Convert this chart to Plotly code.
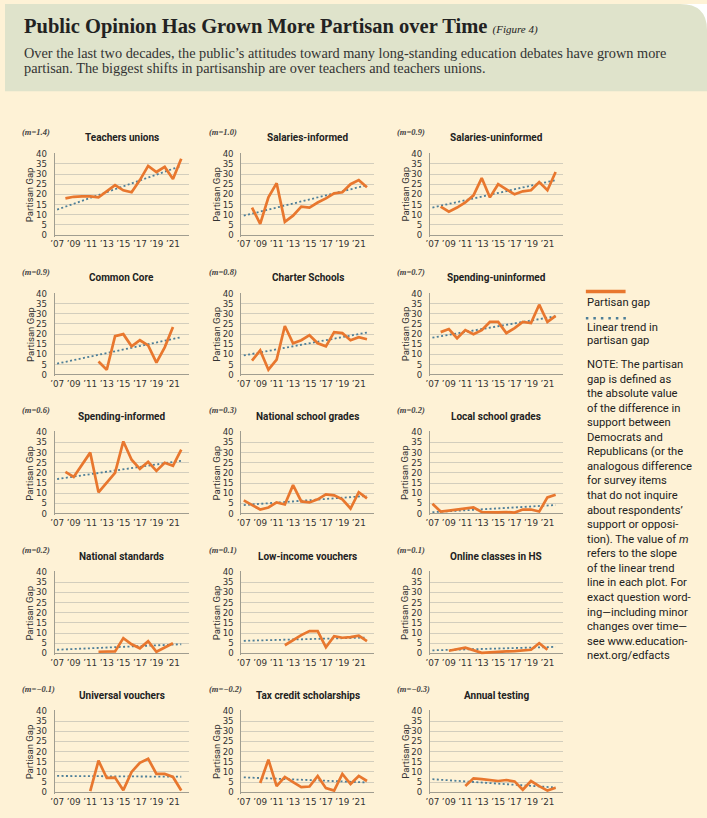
import plotly.graph_objects as go

W, H = 707, 818

# ---------------- data ----------------
panel_titles = ["Teachers unions", "Salaries-informed", "Salaries-uninformed",
                "Common Core", "Charter Schools", "Spending-uninformed",
                "Spending-informed", "National school grades", "Local school grades",
                "National standards", "Low-income vouchers", "Online classes in HS",
                "Universal vouchers", "Tax credit scholarships", "Annual testing"]
slope_labels = ["1.4", "1.0", "0.9", "0.9", "0.8", "0.7", "0.6", "0.3", "0.2",
                "0.2", "0.1", "0.1", "\u22120.1", "\u22120.2", "\u22120.3"]

teachers_unions_years = list(range(2008, 2023))
teachers_unions_gap = [18, 18.8, 19, 19, 18.5, 21.5, 24.5, 22, 21, 27, 34, 31, 33.5, 27.5, 37.5]

salaries_informed_years = list(range(2008, 2023))
salaries_informed_gap = [13.5, 5.5, 18.5, 25.5, 6.5, 9.5, 14, 13.5, 16, 18, 20.5, 21, 25, 27, 23.5]

salaries_uninformed_years = list(range(2008, 2023))
salaries_uninformed_gap = [14, 11.5, 13.5, 16, 19.5, 28, 18.5, 25, 22.5, 20, 21.5, 22, 26, 22, 31]

common_core_years = list(range(2012, 2022))
common_core_gap = [6.5, 2.5, 19, 20, 14, 17, 14.5, 6, 13.5, 23.5]

charter_years = list(range(2008, 2023))
charter_gap = [7, 12, 2.5, 7.5, 24, 15.5, 17, 19.5, 15.5, 14, 21, 20.5, 17, 18.5, 17.5]

spending_uninformed_years = list(range(2008, 2023))
spending_uninformed_gap = [21, 22.5, 18, 22, 20, 22, 26, 26, 20.5, 23, 26, 25.5, 34.5, 26, 29]

spending_informed_years = [2008, 2009, 2011, 2012, 2014, 2015, 2016, 2017, 2018, 2019, 2020, 2021, 2022]
spending_informed_gap = [20.5, 18, 30, 10.5, 20, 35.5, 26.5, 22, 25.5, 21, 25, 23.5, 31.5]

national_grades_years = [2007] + list(range(2009, 2023))
national_grades_gap = [6.5, 2, 3, 5.5, 4.5, 14, 6, 5.5, 7, 9.5, 9, 7, 2.5, 10.5, 7.5]

local_grades_years = list(range(2007, 2023))
local_grades_gap = [4.8, 1, 1.5, 2, 2.2, 3, 0.8, 0.6, 0.6, 0.8, 0.5, 2, 2, 1, 8, 9.3]

national_standards_years = [2012, 2014, 2015, 2016, 2017, 2018, 2019, 2021]
national_standards_gap = [0.8, 1, 7.5, 4.5, 2.5, 6, 0.8, 5]

low_income_years = list(range(2012, 2023))
low_income_gap = [4, 6.5, 9, 11, 11, 3, 8.5, 7.7, 8, 8.7, 6]

online_years = [2009, 2010, 2011, 2013, 2014, 2015, 2016, 2017, 2018, 2019, 2020, 2021]
online_gap = [1.3, 2, 2.8, 0.3, 0.6, 0.8, 1, 1.1, 1.3, 1.8, 5, 1.8]

universal_years = list(range(2011, 2023))
universal_gap = [0.5, 15.5, 7, 7.2, 1, 10, 14.5, 16.5, 9, 9, 7.5, 0.8]

tax_credit_years = list(range(2009, 2023))
tax_credit_gap = [4.5, 16, 3, 7.5, 5, 2.5, 2.8, 8, 2, 0.8, 9, 4, 8, 5.5]

annual_testing_years = list(range(2011, 2023))
annual_testing_gap = [3, 6.8, 6.4, 6, 5.5, 6, 5.3, 1.2, 5.5, 3, 0.8, 2.2]

trend_years = [2007, 2022]
trend_start = [12.5, 9.5, 13.5, 5.5, 9.5, 18.3, 17, 4.2, 0.7, 1.8, 6.2, 1.5, 8, 7.3, 6.4]
trend_end = [34, 24.5, 27, 18.5, 20.8, 28.8, 26, 8.7, 4.2, 4.5, 7.8, 3.2, 7.6, 4.8, 2.3]

series_years = [teachers_unions_years, salaries_informed_years, salaries_uninformed_years,
                common_core_years, charter_years, spending_uninformed_years,
                spending_informed_years, national_grades_years, local_grades_years,
                national_standards_years, low_income_years, online_years,
                universal_years, tax_credit_years, annual_testing_years]
series_gap = [teachers_unions_gap, salaries_informed_gap, salaries_uninformed_gap,
              common_core_gap, charter_gap, spending_uninformed_gap,
              spending_informed_gap, national_grades_gap, local_grades_gap,
              national_standards_gap, low_income_gap, online_gap,
              universal_gap, tax_credit_gap, annual_testing_gap]

x_tick_years = [2007, 2009, 2011, 2013, 2015, 2017, 2019, 2021]
x_tick_text = ["\u201907", "\u201909", "\u201911", "\u201913", "\u201915", "\u201917", "\u201919", "\u201921"]
y_ticks = [0, 5, 10, 15, 20, 25, 30, 35, 40]

note_lines = ["NOTE: The partisan", "gap is defined as", "the absolute value",
              "of the difference in", "support between", "Democrats and",
              "Republicans (or the", "analogous difference", "for survey items",
              "that do not inquire", "about respondents\u2019", "support or opposi-",
              "tion). The value of <i>m</i>", "refers to the slope", "of the linear trend",
              "line in each plot. For", "exact question word-", "ing\u2014including minor",
              "changes over time\u2014", "see www.education-", "next.org/edfacts"]

# ---------------- style ----------------
ORANGE = "#e8772e"
TREND = "#4d7e98"
CREAM = "#fef2d6"
HEADER = "#dfe3cb"
GRID = "#d3cebd"
AXIS = "#a09d90"
SANS = "Roboto, Open Sans, sans-serif"
TICKF = "DejaVu Sans, Roboto, sans-serif"
SERIF = "Liberation Serif, DejaVu Serif, serif"

col_px = [(50, 185), (238, 372), (428, 562)]
row_px = [(233, 151), (374, 292), (514, 432), (655, 573), (795, 713)]  # (y of 0, y of 40)
YR = [-0.8, 40.4]
XR = [2006.7, 2022.9]


def fx(px):
    return px / W


def fy(py):
    return 1 - py / H


fig = go.Figure()
layout = dict(
    width=W, height=H, autosize=False,
    margin=dict(l=0, r=0, t=0, b=0),
    paper_bgcolor=CREAM, plot_bgcolor="rgba(0,0,0,0)",
    showlegend=False,
)
annotations = []
shapes = []

for i in range(15):
    r, c = divmod(i, 3)
    x0, x1 = col_px[c]
    y0, y40 = row_px[r]
    s = (y0 - y40) / 40.0
    bottom = y0 - YR[0] * s
    top = y40 - (YR[1] - 40) * s
    n = "" if i == 0 else str(i + 1)
    layout["xaxis" + n] = dict(
        domain=[fx(x0), fx(x1)], range=XR, anchor="y" + n,
        tickmode="array", tickvals=x_tick_years, ticktext=x_tick_text,
        showgrid=False, zeroline=False, showline=False, ticks="",
        tickfont=dict(family=TICKF, size=8.8, color="#333333"),
        ticklabelstandoff=1,
        fixedrange=True,
    )
    layout["yaxis" + n] = dict(
        domain=[fy(bottom), fy(top)], range=YR, anchor="x" + n,
        tickmode="array", tickvals=y_ticks,
        showgrid=True, gridcolor=GRID, gridwidth=1,
        zeroline=True, zerolinecolor=AXIS, zerolinewidth=1,
        showline=True, linecolor=AXIS, linewidth=1, ticks="",
        tickfont=dict(family=TICKF, size=8.6, color="#333333"),
        ticklabelstandoff=5,
        fixedrange=True,
    )
    fig.add_trace(go.Scatter(
        x=trend_years, y=[trend_start[i], trend_end[i]], mode="lines",
        line=dict(color=TREND, width=1.8, dash="2px,2.4px"),
        xaxis="x" + n, yaxis="y" + n, hoverinfo="skip"))
    fig.add_trace(go.Scatter(
        x=series_years[i], y=series_gap[i], mode="lines",
        line=dict(color=ORANGE, width=2.7),
        xaxis="x" + n, yaxis="y" + n))
    # panel title
    annotations.append(dict(
        text="<b>" + panel_titles[i] + "</b>", xref="paper", yref="paper",
        x=fx((x0 + x1) / 2), y=fy(y40 - 16), xanchor="center", yanchor="middle",
        showarrow=False, font=dict(family=SANS, size=10, color="#222222")))
    # slope label
    annotations.append(dict(
        text="<b><i>(m=" + slope_labels[i] + ")</i></b>", xref="paper", yref="paper",
        x=fx(x0 - 35), y=fy(y40 - 22), xanchor="left", yanchor="middle",
        showarrow=False, font=dict(family=SERIF, size=8.5, color="#444444")))
    # y axis title
    annotations.append(dict(
        text="Partisan Gap", xref="paper", yref="paper", textangle=-90,
        x=fx(x0 - 25), y=fy((y0 + y40) / 2), xanchor="center", yanchor="middle",
        showarrow=False, font=dict(family=SANS, size=9.5, color="#333333")))

# header band
shapes.append(dict(type="rect", xref="paper", yref="paper", x0=0, x1=1,
                   y0=fy(88), y1=1, fillcolor=HEADER, line=dict(width=0), layer="below"))
corner = "M {a},{b} L {c},{b} L {c},{d} Q {c},{b} {a},{b} Z".format(
    a=fx(680), b=fy(0), c=fx(707), d=fy(26))
shapes.append(dict(type="path", xref="paper", yref="paper", path=corner,
                   fillcolor="#ffffff", line=dict(width=0), layer="below"))

# title & subtitle
annotations.append(dict(
    text="<b>Public Opinion Has Grown More Partisan over Time</b>"
         " <i><span style='font-size:11px'>(Figure 4)</span></i>",
    xref="paper", yref="paper", x=fx(17), y=fy(23), xanchor="left", yanchor="middle",
    showarrow=False, font=dict(family=SERIF, size=20.5, color="#222222")))
annotations.append(dict(
    text="Over the last two decades, the public\u2019s attitudes toward many long-standing "
         "education debates have grown more",
    xref="paper", yref="paper", x=fx(17), y=fy(49), xanchor="left", yanchor="middle",
    showarrow=False, font=dict(family=SERIF, size=14.3, color="#333333")))
annotations.append(dict(
    text="partisan. The biggest shifts in partisanship are over teachers and teachers unions.",
    xref="paper", yref="paper", x=fx(17), y=fy(65), xanchor="left", yanchor="middle",
    showarrow=False, font=dict(family=SERIF, size=14.3, color="#333333")))

# legend
shapes.append(dict(type="line", xref="paper", yref="paper",
                   x0=fx(585), x1=fx(625), y0=fy(290), y1=fy(290),
                   line=dict(color=ORANGE, width=3.5)))
shapes.append(dict(type="line", xref="paper", yref="paper",
                   x0=fx(585), x1=fx(627), y0=fy(317), y1=fy(317),
                   line=dict(color=TREND, width=2.5, dash="2.5px,5px")))
annotations.append(dict(
    text="Partisan gap", xref="paper", yref="paper", x=fx(584), y=fy(301),
    xanchor="left", yanchor="middle", showarrow=False,
    font=dict(family=SANS, size=11.2, color="#222222")))
annotations.append(dict(
    text="Linear trend in", xref="paper", yref="paper", x=fx(584), y=fy(326),
    xanchor="left", yanchor="middle", showarrow=False,
    font=dict(family=SANS, size=11.2, color="#222222")))
annotations.append(dict(
    text="partisan gap", xref="paper", yref="paper", x=fx(584), y=fy(339.5),
    xanchor="left", yanchor="middle", showarrow=False,
    font=dict(family=SANS, size=11.2, color="#222222")))
annotations.append(dict(
    text="<br>".join(note_lines), xref="paper", yref="paper", x=fx(584), y=fy(355),
    xanchor="left", yanchor="top", align="left", showarrow=False,
    font=dict(family=SANS, size=11.2, color="#222222")))

layout["annotations"] = annotations
layout["shapes"] = shapes
fig.update_layout(**layout)
fig.write_html(
    "out.html",
    config={"displayModeBar": False, "staticPlot": True},
    post_script="document.body.style.margin='0';document.body.style.padding='0';"
                "document.documentElement.style.overflow='hidden';",
)
